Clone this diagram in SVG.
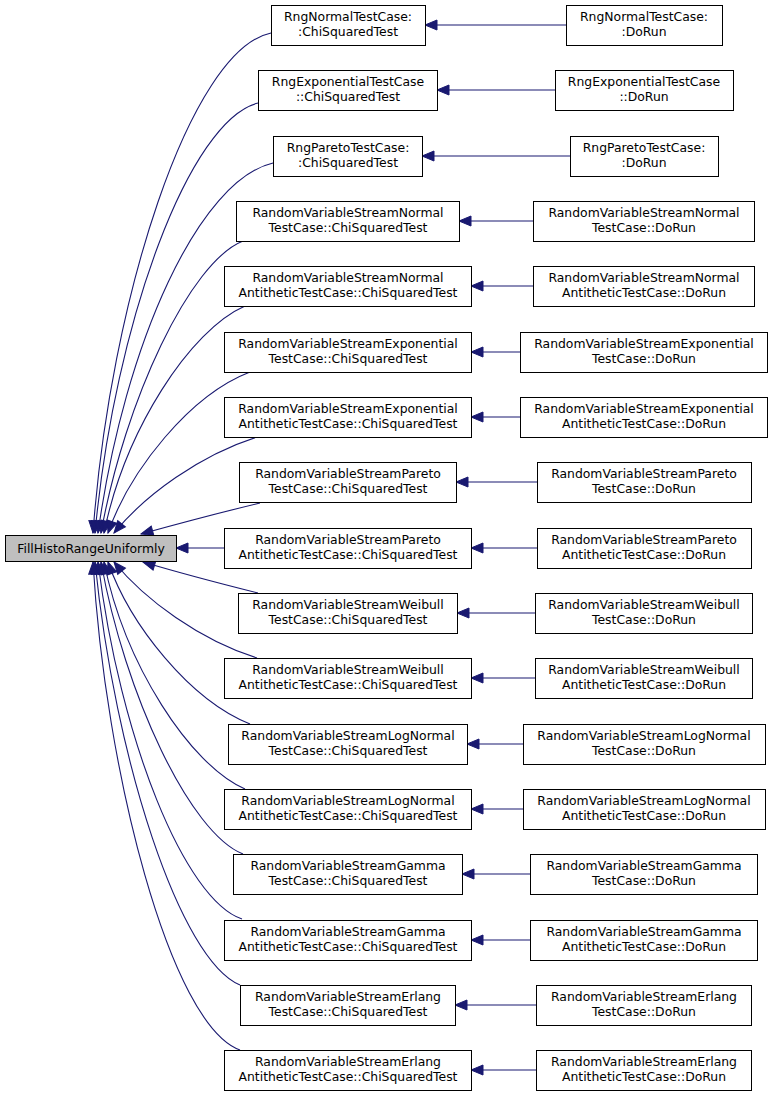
<svg xmlns="http://www.w3.org/2000/svg" width="773" height="1096" viewBox="0 0 773 1096">
<style>
.n rect{fill:#ffffff;stroke:#000000;stroke-width:1}
.m rect{fill:#bfbfbf;stroke:#000000;stroke-width:1}
text{font-family:"DejaVu Sans","Liberation Sans",sans-serif;font-size:12.4px;fill:#000000;text-anchor:middle}
.e path{fill:none;stroke:#191970;stroke-width:1.1;marker-end:url(#ah)}
</style>
<defs>
<marker id="ah" markerUnits="userSpaceOnUse" markerWidth="14" markerHeight="12" refX="12" refY="6" orient="auto" overflow="visible">
<polygon points="0,1 12,6 0,11" fill="#191970" stroke="#191970" stroke-width="1"/>
</marker>
</defs>
<rect width="773" height="1096" fill="#ffffff"/>
<g id="edges" class="e">
<path d="M271,33 C190,50 110,300 93,533"/>
<path d="M258,103 C190,120 115,320 95,533"/>
<path d="M273,163 C200,180 125,340 98,533"/>
<path d="M243,241 C190,262 125,400 101,533"/>
<path d="M245,306 C190,330 125,430 104,533"/>
<path d="M250,372 C190,395 130,470 108,533"/>
<path d="M257,437 C200,455 145,495 114,533"/>
<path d="M260,503 C210,515 170,526 141,534"/>
<path d="M224,548 L176,548"/>
<path d="M258,593 C210,581 170,570 143,562"/>
<path d="M257,658 C200,640 145,600 114,562"/>
<path d="M250,724 C190,700 130,625 108,562"/>
<path d="M245,789 C190,765 125,665 104,562"/>
<path d="M243,854 C190,833 125,695 101,562"/>
<path d="M242,919 C185,900 120,740 98,562"/>
<path d="M240,985 C180,960 115,760 95,562"/>
<path d="M240,1050 C170,1025 105,770 93,562"/>
<path d="M566,25 L425,25"/>
<path d="M555,90 L437,90"/>
<path d="M570,156 L422,156"/>
<path d="M533,221 L459,221"/>
<path d="M533,286 L471,286"/>
<path d="M520,352 L471,352"/>
<path d="M520,417 L471,417"/>
<path d="M537,482 L456,482"/>
<path d="M537,548 L471,548"/>
<path d="M535,613 L457,613"/>
<path d="M535,678 L471,678"/>
<path d="M523,744 L467,744"/>
<path d="M523,809 L471,809"/>
<path d="M530,874 L462,874"/>
<path d="M530,940 L471,940"/>
<path d="M536,1005 L455,1005"/>
<path d="M536,1070 L471,1070"/>
</g>
<g id="main" class="m"><rect x="5.5" y="535.5" width="171" height="26"/><text x="91" y="552.5">FillHistoRangeUniformly</text></g>
<g id="c0" class="n"><rect x="271.5" y="5.5" width="154" height="40"/><text x="348" y="21">RngNormalTestCase:</text><text x="348" y="36">:ChiSquaredTest</text></g>
<g id="c1" class="n"><rect x="258.5" y="70.5" width="179" height="40"/><text x="348" y="86">RngExponentialTestCase</text><text x="348" y="101">::ChiSquaredTest</text></g>
<g id="c2" class="n"><rect x="273.5" y="136.5" width="149" height="40"/><text x="348" y="152">RngParetoTestCase:</text><text x="348" y="167">:ChiSquaredTest</text></g>
<g id="c3" class="n"><rect x="236.5" y="201.5" width="223" height="40"/><text x="348" y="217">RandomVariableStreamNormal</text><text x="348" y="232">TestCase::ChiSquaredTest</text></g>
<g id="c4" class="n"><rect x="224.5" y="266.5" width="247" height="40"/><text x="348" y="282">RandomVariableStreamNormal</text><text x="348" y="297">AntitheticTestCase::ChiSquaredTest</text></g>
<g id="c5" class="n"><rect x="224.5" y="332.5" width="247" height="40"/><text x="348" y="348">RandomVariableStreamExponential</text><text x="348" y="363">TestCase::ChiSquaredTest</text></g>
<g id="c6" class="n"><rect x="224.5" y="397.5" width="247" height="40"/><text x="348" y="413">RandomVariableStreamExponential</text><text x="348" y="428">AntitheticTestCase::ChiSquaredTest</text></g>
<g id="c7" class="n"><rect x="239.5" y="462.5" width="217" height="40"/><text x="348" y="478">RandomVariableStreamPareto</text><text x="348" y="493">TestCase::ChiSquaredTest</text></g>
<g id="c8" class="n"><rect x="224.5" y="528.5" width="247" height="40"/><text x="348" y="544">RandomVariableStreamPareto</text><text x="348" y="559">AntitheticTestCase::ChiSquaredTest</text></g>
<g id="c9" class="n"><rect x="238.5" y="593.5" width="219" height="40"/><text x="348" y="609">RandomVariableStreamWeibull</text><text x="348" y="624">TestCase::ChiSquaredTest</text></g>
<g id="c10" class="n"><rect x="224.5" y="658.5" width="247" height="40"/><text x="348" y="674">RandomVariableStreamWeibull</text><text x="348" y="689">AntitheticTestCase::ChiSquaredTest</text></g>
<g id="c11" class="n"><rect x="228.5" y="724.5" width="239" height="40"/><text x="348" y="740">RandomVariableStreamLogNormal</text><text x="348" y="755">TestCase::ChiSquaredTest</text></g>
<g id="c12" class="n"><rect x="224.5" y="789.5" width="247" height="40"/><text x="348" y="805">RandomVariableStreamLogNormal</text><text x="348" y="820">AntitheticTestCase::ChiSquaredTest</text></g>
<g id="c13" class="n"><rect x="233.5" y="854.5" width="229" height="40"/><text x="348" y="870">RandomVariableStreamGamma</text><text x="348" y="885">TestCase::ChiSquaredTest</text></g>
<g id="c14" class="n"><rect x="224.5" y="920.5" width="247" height="40"/><text x="348" y="936">RandomVariableStreamGamma</text><text x="348" y="951">AntitheticTestCase::ChiSquaredTest</text></g>
<g id="c15" class="n"><rect x="240.5" y="985.5" width="215" height="40"/><text x="348" y="1001">RandomVariableStreamErlang</text><text x="348" y="1016">TestCase::ChiSquaredTest</text></g>
<g id="c16" class="n"><rect x="224.5" y="1050.5" width="247" height="40"/><text x="348" y="1066">RandomVariableStreamErlang</text><text x="348" y="1081">AntitheticTestCase::ChiSquaredTest</text></g>
<g id="d0" class="n"><rect x="566.5" y="5.5" width="156" height="40"/><text x="644" y="21">RngNormalTestCase:</text><text x="644" y="36">:DoRun</text></g>
<g id="d1" class="n"><rect x="555.5" y="70.5" width="178" height="40"/><text x="644" y="86">RngExponentialTestCase</text><text x="644" y="101">::DoRun</text></g>
<g id="d2" class="n"><rect x="570.5" y="136.5" width="148" height="40"/><text x="644" y="152">RngParetoTestCase:</text><text x="644" y="167">:DoRun</text></g>
<g id="d3" class="n"><rect x="533.5" y="201.5" width="221" height="40"/><text x="644" y="217">RandomVariableStreamNormal</text><text x="644" y="232">TestCase::DoRun</text></g>
<g id="d4" class="n"><rect x="533.5" y="266.5" width="221" height="40"/><text x="644" y="282">RandomVariableStreamNormal</text><text x="644" y="297">AntitheticTestCase::DoRun</text></g>
<g id="d5" class="n"><rect x="520.5" y="332.5" width="247" height="40"/><text x="644" y="348">RandomVariableStreamExponential</text><text x="644" y="363">TestCase::DoRun</text></g>
<g id="d6" class="n"><rect x="520.5" y="397.5" width="247" height="40"/><text x="644" y="413">RandomVariableStreamExponential</text><text x="644" y="428">AntitheticTestCase::DoRun</text></g>
<g id="d7" class="n"><rect x="537.5" y="462.5" width="214" height="40"/><text x="644" y="478">RandomVariableStreamPareto</text><text x="644" y="493">TestCase::DoRun</text></g>
<g id="d8" class="n"><rect x="537.5" y="528.5" width="214" height="40"/><text x="644" y="544">RandomVariableStreamPareto</text><text x="644" y="559">AntitheticTestCase::DoRun</text></g>
<g id="d9" class="n"><rect x="535.5" y="593.5" width="217" height="40"/><text x="644" y="609">RandomVariableStreamWeibull</text><text x="644" y="624">TestCase::DoRun</text></g>
<g id="d10" class="n"><rect x="535.5" y="658.5" width="217" height="40"/><text x="644" y="674">RandomVariableStreamWeibull</text><text x="644" y="689">AntitheticTestCase::DoRun</text></g>
<g id="d11" class="n"><rect x="523.5" y="724.5" width="242" height="40"/><text x="644" y="740">RandomVariableStreamLogNormal</text><text x="644" y="755">TestCase::DoRun</text></g>
<g id="d12" class="n"><rect x="523.5" y="789.5" width="242" height="40"/><text x="644" y="805">RandomVariableStreamLogNormal</text><text x="644" y="820">AntitheticTestCase::DoRun</text></g>
<g id="d13" class="n"><rect x="530.5" y="854.5" width="227" height="40"/><text x="644" y="870">RandomVariableStreamGamma</text><text x="644" y="885">TestCase::DoRun</text></g>
<g id="d14" class="n"><rect x="530.5" y="920.5" width="227" height="40"/><text x="644" y="936">RandomVariableStreamGamma</text><text x="644" y="951">AntitheticTestCase::DoRun</text></g>
<g id="d15" class="n"><rect x="536.5" y="985.5" width="215" height="40"/><text x="644" y="1001">RandomVariableStreamErlang</text><text x="644" y="1016">TestCase::DoRun</text></g>
<g id="d16" class="n"><rect x="536.5" y="1050.5" width="215" height="40"/><text x="644" y="1066">RandomVariableStreamErlang</text><text x="644" y="1081">AntitheticTestCase::DoRun</text></g>
</svg>
